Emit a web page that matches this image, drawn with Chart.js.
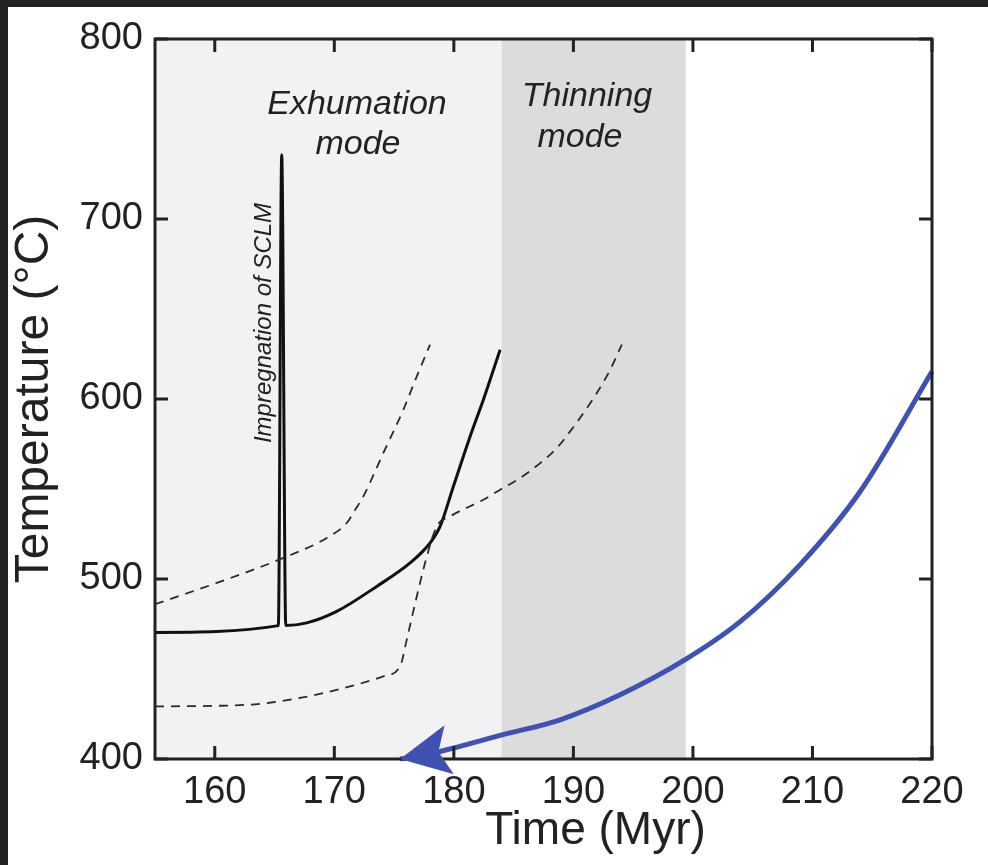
<!DOCTYPE html>
<html>
<head>
<meta charset="utf-8">
<script src="https://cdn.jsdelivr.net/npm/chart.js@4/dist/chart.umd.min.js"></script>
<style>
  html, body { margin: 0; padding: 0; background: #fff; }
  canvas { display: block; }
</style>
</head>
<body>
<canvas id="cooling-chart" width="988" height="865"></canvas>
<script>
// solid black path (with the impregnation spike)
const solidTime = [155, 165.32, 165.6, 165.94, 167.69, 170.2, 173.55, 176.34, 178.01, 178.85, 179.96, 181.36, 182.47, 183.87];
const solidTemp = [470.3, 474.1, 735.7, 474.1, 475.6, 482, 495.9, 508.9, 520, 529.2, 551.4, 579.2, 599.6, 627.4];

// upper dashed path
const upperTime = [155, 160.16, 165.74, 169.37, 171.04, 171.74, 172.43, 174.1, 175.78, 176.9, 178.01];
const upperTemp = [486, 497.8, 511.7, 522.8, 531.1, 538.4, 545.9, 570, 594.1, 612.6, 630.2];

// lower dashed path
const lowerTime = [155, 162.95, 167.13, 171.32, 174.1, 175.5, 176.06, 176.9, 177.74, 178.57, 179.69, 182.47, 183.87, 185.54, 187.22, 188.62, 189.73, 190.84, 191.96, 193.08, 194.05];
const lowerTemp = [429.2, 430.2, 433.9, 440.3, 445.9, 451.4, 466.3, 490.3, 512.6, 529.2, 534.8, 544, 549.6, 556.1, 564.4, 572.8, 582, 592.2, 603.3, 616.3, 630.2];

// blue arrow path (first point = arrow tip)
const blueTime = [175.5, 178.85, 184.12, 188.89, 193.91, 199.35, 203.95, 208.97, 213.99, 220];
const blueTemp = [400, 404.2, 413.5, 421.8, 435.7, 455.2, 476.3, 508, 548.6, 615.3];

// shaded time spans
const exhumationSpan = [155, 184];
const thinningSpan = [184, 199.4];

const toPoints = (xs, ys) => xs.map((x, i) => ({ x: x, y: ys[i] }));

const FONT = "'Liberation Sans', Arial, Helvetica, sans-serif";
const INK = "#222222";
const BLUE = "#3f51b3";

const figurePlugin = {
  id: "figure",
  beforeDraw(chart) {
    const ctx = chart.ctx;
    ctx.save();
    ctx.fillStyle = "#222222";
    ctx.fillRect(0, 0, chart.width, chart.height);
    ctx.fillStyle = "#ffffff";
    ctx.fillRect(8, 7, chart.width - 8, chart.height - 7);
    ctx.restore();
  },
  beforeDatasetsDraw(chart) {
    const { ctx, chartArea: a, scales: { x } } = chart;
    ctx.save();
    ctx.fillStyle = "#f2f2f2";
    let x0 = x.getPixelForValue(exhumationSpan[0]);
    let x1 = x.getPixelForValue(exhumationSpan[1]);
    ctx.fillRect(x0, a.top, x1 - x0, a.bottom - a.top);
    ctx.fillStyle = "#dcdcdc";
    x0 = x.getPixelForValue(thinningSpan[0]);
    x1 = x.getPixelForValue(thinningSpan[1]);
    ctx.fillRect(x0, a.top, x1 - x0, a.bottom - a.top);

    // annotations
    ctx.fillStyle = INK;
    ctx.textAlign = "center";
    ctx.textBaseline = "middle";
    ctx.font = "italic 34px " + FONT;
    ctx.fillText("Exhumation", 357, 105);
    ctx.fillText("mode", 358, 145);
    ctx.fillText("Thinning", 587, 97);
    ctx.fillText("mode", 580, 138);
    ctx.font = "italic 24px " + FONT;
    ctx.translate(264, 323);
    ctx.rotate(-Math.PI / 2);
    ctx.fillText("Impregnation of SCLM", 0, 0);
    ctx.restore();
  },
  afterDatasetsDraw(chart) {
    const { ctx, chartArea: a, scales: { x, y } } = chart;
    ctx.save();
    // frame
    ctx.strokeStyle = INK;
    ctx.lineWidth = 3;
    ctx.strokeRect(a.left, a.top, a.right - a.left, a.bottom - a.top);
    // inward ticks
    const tl = 13;
    ctx.beginPath();
    x.ticks.forEach(t => {
      const px = x.getPixelForValue(t.value);
      ctx.moveTo(px, a.bottom); ctx.lineTo(px, a.bottom - tl);
      ctx.moveTo(px, a.top); ctx.lineTo(px, a.top + tl);
    });
    y.ticks.forEach(t => {
      const py = y.getPixelForValue(t.value);
      ctx.moveTo(a.left, py); ctx.lineTo(a.left + tl, py);
      ctx.moveTo(a.right, py); ctx.lineTo(a.right - tl, py);
    });
    ctx.stroke();

    // arrow head on blue path
    const tipX = x.getPixelForValue(blueTime[0]);
    const tipY = y.getPixelForValue(blueTemp[0]);
    const nx = x.getPixelForValue(blueTime[1]);
    const ny = y.getPixelForValue(blueTemp[1]);
    const len = Math.hypot(nx - tipX, ny - tipY);
    const ux = (nx - tipX) / len, uy = (ny - tipY) / len;
    const L = 50, W = 25;
    const bx = tipX + ux * L, by = tipY + uy * L;
    const mx = tipX + ux * L * 0.78, my = tipY + uy * L * 0.78;
    ctx.fillStyle = BLUE;
    ctx.beginPath();
    ctx.moveTo(tipX, tipY);
    ctx.lineTo(bx - uy * W, by + ux * W);
    ctx.lineTo(mx, my);
    ctx.lineTo(bx + uy * W, by - ux * W);
    ctx.closePath();
    ctx.fill();

    // x axis title
    ctx.fillStyle = INK;
    ctx.font = "46px " + FONT;
    ctx.textAlign = "center";
    ctx.textBaseline = "middle";
    ctx.fillText("Time (Myr)", (a.left + a.right) / 2 + 52, 831);
    ctx.restore();
  }
};

const mono = { pointRadius: 0, cubicInterpolationMode: "monotone", fill: false };

new Chart(document.getElementById("cooling-chart").getContext("2d"), {
  type: "line",
  data: {
    datasets: [
      Object.assign({ data: toPoints(upperTime, upperTemp), borderColor: "#2a2a2a", borderWidth: 1.8, borderDash: [9, 7] }, mono),
      Object.assign({ data: toPoints(lowerTime, lowerTemp), borderColor: "#2a2a2a", borderWidth: 1.8, borderDash: [9, 7] }, mono),
      Object.assign({ data: toPoints(solidTime, solidTemp), borderColor: "#111111", borderWidth: 3 }, mono),
      Object.assign({ data: toPoints(blueTime, blueTemp), borderColor: BLUE, borderWidth: 5, clip: false }, mono),
    ],
  },
  options: {
    responsive: false,
    animation: false,
    devicePixelRatio: 1,
    layout: { padding: { top: 39, right: 56, left: 0, bottom: 0 } },
    plugins: { legend: { display: false }, tooltip: { enabled: false } },
    scales: {
      x: {
        type: "linear",
        min: 155,
        max: 220,
        grid: { display: false },
        border: { display: false },
        ticks: { stepSize: 10, includeBounds: false, color: INK, padding: 3, font: { family: FONT, size: 38 } },
        afterFit(scale) { scale.height = 106; },
      },
      y: {
        min: 400,
        max: 800,
        grid: { display: false },
        border: { display: false },
        ticks: { stepSize: 100, color: INK, padding: 4, font: { family: FONT, size: 38 } },
        title: { display: true, text: "Temperature (°C)", color: INK, padding: { top: 6, bottom: 0 }, font: { family: FONT, size: 48 } },
        afterFit(scale) { scale.width = 155; },
      },
    },
  },
  plugins: [figurePlugin],
});
</script>
</body>
</html>
